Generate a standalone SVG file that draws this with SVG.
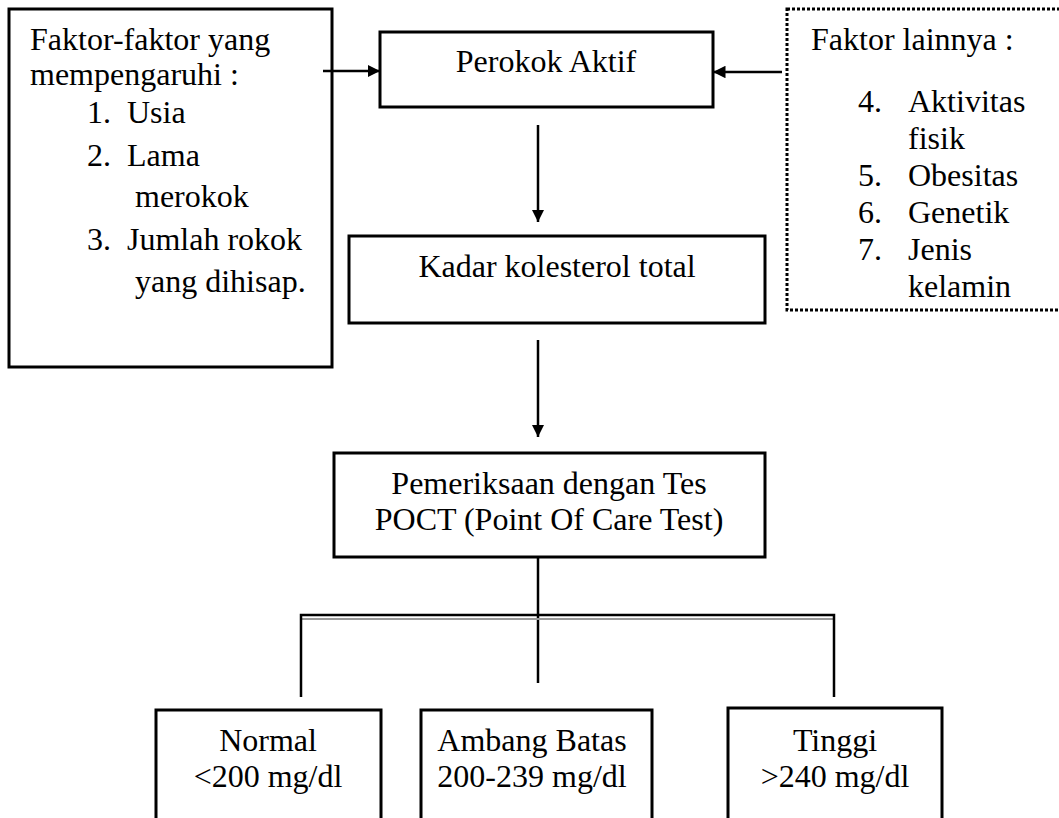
<svg xmlns="http://www.w3.org/2000/svg" width="1059" height="818" viewBox="0 0 1059 818">
<style>
text{font-family:"Liberation Serif","Times New Roman","DejaVu Serif",serif;font-size:32px;fill:#000}
.box{fill:#fff;stroke:#000;stroke-width:3}
.dot{fill:none;stroke:#000;stroke-width:3;stroke-dasharray:3 2}
.ln{fill:none;stroke:#000;stroke-width:2.5}
.c{text-anchor:middle}
</style>
<defs>
<marker id="ah" viewBox="0 0 10 10" refX="10" refY="5" markerWidth="5" markerHeight="5" orient="auto" markerUnits="strokeWidth">
<path d="M0,0 L10,5 L0,10 Z" fill="#000"/>
</marker>
</defs>
<g id="factors-left" font-family="Liberation Serif, serif">
<rect class="box" x="9" y="9" width="323" height="358"/>
<text x="30" y="50">Faktor-faktor yang</text>
<text x="30" y="85">mempengaruhi :</text>
<text x="87" y="123">1.</text><text x="127" y="123">Usia</text>
<text x="87" y="166">2.</text><text x="127" y="166">Lama</text>
<text x="135" y="207">merokok</text>
<text x="87" y="250">3.</text><text x="127" y="250">Jumlah rokok</text>
<text x="135" y="292">yang dihisap.</text>
</g>
<g id="perokok">
<rect class="box" x="380" y="32" width="333" height="75"/>
<text class="c" x="546" y="72">Perokok Aktif</text>
</g>
<g id="factors-right">
<rect class="dot" x="787" y="9" width="300" height="301"/>
<text x="811" y="50">Faktor lainnya :</text>
<text x="858" y="112">4.</text><text x="908" y="112">Aktivitas</text>
<text x="908" y="149">fisik</text>
<text x="858" y="186">5.</text><text x="908" y="186">Obesitas</text>
<text x="858" y="223">6.</text><text x="908" y="223">Genetik</text>
<text x="858" y="260">7.</text><text x="908" y="260">Jenis</text>
<text x="908" y="297">kelamin</text>
</g>
<g id="kadar">
<rect class="box" x="349" y="236" width="416" height="87"/>
<text class="c" x="557" y="277">Kadar kolesterol total</text>
</g>
<g id="pemeriksaan">
<rect class="box" x="334" y="453" width="431" height="104"/>
<text class="c" x="549" y="494">Pemeriksaan dengan Tes</text>
<text class="c" x="549" y="530">POCT (Point Of Care Test)</text>
</g>
<g id="normal">
<rect class="box" x="156" y="710" width="225" height="120"/>
<text class="c" x="268" y="751">Normal</text>
<text class="c" x="268" y="787">&lt;200 mg/dl</text>
</g>
<g id="ambang">
<rect class="box" x="421" y="710" width="231" height="120"/>
<text class="c" x="532" y="751">Ambang Batas</text>
<text class="c" x="532" y="787">200-239 mg/dl</text>
</g>
<g id="tinggi">
<rect class="box" x="728" y="708" width="214" height="120"/>
<text class="c" x="835" y="751">Tinggi</text>
<text class="c" x="835" y="787">&gt;240 mg/dl</text>
</g>
<g id="connectors">
<line class="ln" x1="323" y1="71" x2="380" y2="71" marker-end="url(#ah)"/>
<line class="ln" x1="782" y1="72" x2="713" y2="72" marker-end="url(#ah)"/>
<line class="ln" x1="538" y1="125" x2="538" y2="222" marker-end="url(#ah)"/>
<line class="ln" x1="538" y1="340" x2="538" y2="437" marker-end="url(#ah)"/>
<line class="ln" x1="538" y1="557" x2="538" y2="683"/>
<line x1="300" y1="619" x2="835" y2="619" stroke="#999" stroke-width="2"/>
<polyline class="ln" points="301,697 301,615 834,615 834,697"/>
</g>
</svg>
